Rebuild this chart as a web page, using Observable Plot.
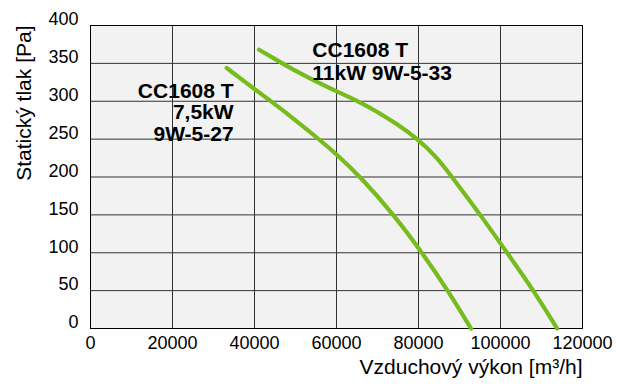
<!DOCTYPE html>
<html>
<head>
<meta charset="utf-8">
<script src="https://cdn.jsdelivr.net/npm/d3@7"></script>
<script src="https://cdn.jsdelivr.net/npm/@observablehq/plot@0.6"></script>
<style>
  html, body { margin: 0; padding: 0; background: #fff; }
  #chart svg { display: block; }
</style>
</head>
<body>
<div id="chart"></div>
<script>
// Curve: CC1608 T 7,5kW 9W-5-27
const flow75 = [33200, 40000, 44300, 50000, 55700, 60000, 65900, 74000, 80900, 87200, 92800];
const pres75 = [344, 316, 299, 275, 250, 230, 200, 150, 100, 50, 0];
// Curve: CC1608 T 11kW 9W-5-33
const flow11 = [41100, 46800, 50000, 55000, 60000, 65300, 70000, 75000, 79600, 84000, 88200, 95100, 101600, 108100, 113800];
const pres11 = [368, 350, 340, 326, 313, 300, 286, 269, 251, 229, 200, 150, 100, 50, 0];

const xTicks = [0, 20000, 40000, 60000, 80000, 100000, 120000];
const yTicks = [0, 50, 100, 150, 200, 250, 300, 350, 400];

const labelTexts = ["CC1608 T\n7,5kW\n9W-5-27", "CC1608 T\n11kW 9W-5-33"];
const labelX = [34900, 54100];
const labelY = [324.8, 379.3];

const xTitle = "Vzduchový výkon [m³/h]";
const yTitle = "Statický tlak [Pa]";

const series = [
  ...flow75.map((f, i) => ({curve: "7.5kW", flow: f, pressure: pres75[i]})),
  ...flow11.map((f, i) => ({curve: "11kW", flow: f, pressure: pres11[i]}))
];

const font = "'Liberation Sans', Arial, Helvetica, sans-serif";
const green = "#77bc1f";

const chart = Plot.plot({
  width: 624,
  height: 387,
  marginLeft: 90,
  marginRight: 42,
  marginTop: 25,
  marginBottom: 59,
  style: {fontFamily: font, fontSize: "18px", color: "#000", background: "#fff"},
  x: {domain: [0, 120000]},
  y: {domain: [0, 400]},
  marks: [
    Plot.frame({fill: "#f2f2f2", stroke: null}),
    Plot.gridX(xTicks, {stroke: "#333", strokeOpacity: 1, strokeWidth: 1}),
    Plot.gridY(yTicks, {stroke: "#333", strokeOpacity: 1, strokeWidth: 1}),
    Plot.frame({stroke: "#000", strokeWidth: 1}),
    Plot.axisX(xTicks, {tickSize: 0, tickPadding: 8, tickFormat: d3.format("d"), fontSize: 18, label: null}),
    Plot.axisY(yTicks, {tickSize: 0, tickPadding: 12, dy: -6, tickFormat: d3.format("d"), fontSize: 18, label: null}),
    Plot.text([xTitle], {frameAnchor: "bottom-right", textAnchor: "end", dy: 45, fontSize: 21, fill: "#000"}),
    Plot.text([yTitle], {frameAnchor: "top-left", textAnchor: "end", rotate: -90, dx: -74, fontSize: 21, fill: "#000"}),
    Plot.line(series, {x: "flow", y: "pressure", z: "curve", stroke: green, strokeWidth: 4.2, curve: "basis"}),
    Plot.text([0], {x: () => labelX[0], y: () => labelY[0], text: () => labelTexts[0], textAnchor: "end", lineAnchor: "top", lineHeight: 1.02, fontSize: 21, fontWeight: "bold", fill: "#000"}),
    Plot.text([0], {x: () => labelX[1], y: () => labelY[1], text: () => labelTexts[1], textAnchor: "start", lineAnchor: "top", lineHeight: 1.08, fontSize: 21, fontWeight: "bold", fill: "#000"})
  ]
});
document.getElementById("chart").appendChild(chart);
</script>
</body>
</html>
